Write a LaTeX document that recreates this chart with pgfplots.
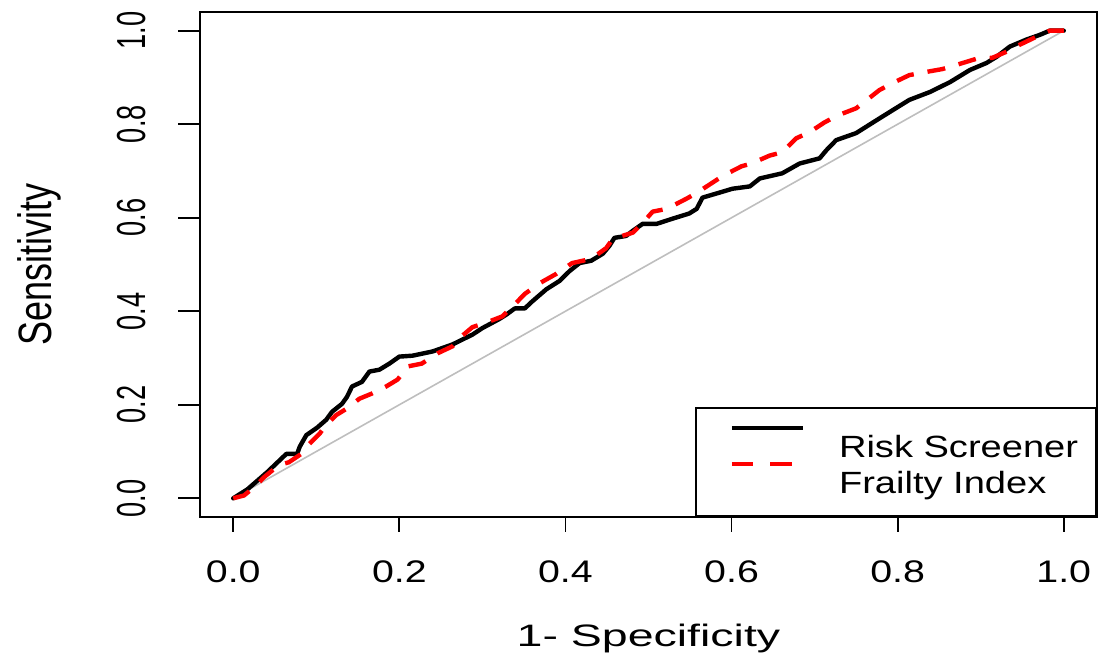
\documentclass[border=0pt]{standalone}
\usepackage{fontspec}
\setmainfont{Liberation Sans}
\usepackage{graphicx}
\usepackage{pgfplots}
\pgfplotsset{compat=1.18}

% ROC curve of the Risk Screener
\pgfplotstableread{
fpr tpr
0.000 0.000
0.017 0.019
0.041 0.056
0.064 0.095
0.077 0.095
0.080 0.110
0.088 0.135
0.101 0.151
0.112 0.168
0.119 0.185
0.131 0.202
0.137 0.217
0.143 0.239
0.155 0.249
0.164 0.271
0.176 0.275
0.188 0.288
0.200 0.303
0.216 0.305
0.240 0.314
0.264 0.329
0.288 0.350
0.300 0.364
0.320 0.383
0.329 0.393
0.339 0.406
0.351 0.406
0.360 0.421
0.377 0.447
0.393 0.465
0.405 0.486
0.417 0.503
0.431 0.508
0.445 0.523
0.453 0.540
0.459 0.557
0.473 0.561
0.481 0.572
0.493 0.587
0.510 0.587
0.529 0.598
0.549 0.609
0.558 0.619
0.565 0.643
0.586 0.654
0.601 0.662
0.622 0.667
0.634 0.684
0.661 0.695
0.682 0.716
0.706 0.727
0.714 0.744
0.726 0.766
0.750 0.781
0.775 0.809
0.794 0.830
0.814 0.852
0.839 0.869
0.863 0.890
0.887 0.916
0.907 0.931
0.919 0.944
0.935 0.966
0.955 0.981
0.971 0.991
0.983 1.000
1.000 1.000
}\riskscreener

% ROC curve of the Frailty Index
\pgfplotstableread{
fpr tpr
0.000 0.000
0.013 0.006
0.028 0.028
0.037 0.045
0.055 0.071
0.067 0.077
0.082 0.095
0.088 0.110
0.104 0.138
0.110 0.153
0.124 0.178
0.136 0.191
0.152 0.213
0.167 0.224
0.184 0.239
0.198 0.254
0.210 0.282
0.227 0.288
0.246 0.310
0.264 0.325
0.276 0.348
0.288 0.366
0.308 0.378
0.324 0.389
0.339 0.415
0.351 0.437
0.369 0.460
0.389 0.480
0.408 0.503
0.431 0.512
0.449 0.535
0.457 0.555
0.481 0.568
0.492 0.587
0.505 0.613
0.522 0.619
0.546 0.641
0.558 0.653
0.577 0.675
0.590 0.690
0.612 0.710
0.624 0.716
0.646 0.733
0.661 0.740
0.678 0.770
0.694 0.783
0.712 0.804
0.728 0.819
0.750 0.834
0.763 0.852
0.778 0.873
0.794 0.888
0.814 0.905
0.835 0.912
0.854 0.918
0.871 0.927
0.895 0.940
0.914 0.942
0.931 0.955
0.947 0.970
0.967 0.987
0.983 1.000
1.000 1.000
}\frailtyindex

\definecolor{refgray}{RGB}{190,190,190}
% tick labels: set below / left of the frame without shifting the label nodes
\newcommand{\xtl}[1]{\raisebox{-33pt}{\scalebox{1.26}[1]{#1}}}
\newcommand{\ytl}[1]{\raisebox{27pt}{\scalebox{1}[1.49]{#1}}}

\begin{document}
\begin{tikzpicture}
\useasboundingbox (-100pt,-72.5pt) rectangle (449.5pt,258.5pt);
\begin{axis}[
  name=roc,
  at={(0pt,0pt)}, anchor=south west,
  scale only axis, width=448.5pt, height=252.5pt,
  xmin=-0.04, xmax=1.04, ymin=-0.04, ymax=1.04,
  axis line style={line width=0.9pt, black},
  tick style={draw=none},
  xtick pos=left, ytick pos=left,
  xtick={0,0.2,0.4,0.6,0.8,1},
  xticklabels={\xtl{0.0},\xtl{0.2},\xtl{0.4},\xtl{0.6},\xtl{0.8},\xtl{1.0}},
  ytick={0,0.2,0.4,0.6,0.8,1},
  yticklabels={\ytl{0.0},\ytl{0.2},\ytl{0.4},\ytl{0.6},\ytl{0.8},\ytl{1.0}},
  xticklabel style={anchor=base, inner sep=0pt,
    font=\fontsize{15.6pt}{16pt}\selectfont},
  yticklabel style={rotate=90, anchor=base, inner sep=0pt,
    font=\fontsize{13.6pt}{14pt}\selectfont},
  xlabel={\scalebox{1.5}[1]{1- Specificity}},
  ylabel={\scalebox{1}[1.3]{Sensitivity}},
  xlabel style={at={(axis description cs:0.5,-0.2574)}, anchor=base, inner sep=0pt,
    font=\fontsize{15.5pt}{16pt}\selectfont},
  ylabel style={at={(axis description cs:-0.165,0.5)}, anchor=base, inner sep=0pt,
    font=\fontsize{18pt}{19pt}\selectfont},
  legend cell align=left,
  legend style={at={(rel axis cs:1,0)}, anchor=south east,
    draw=black, line width=0.9pt, fill=white,
    inner xsep=9pt, inner ysep=8pt, row sep=-2pt, column sep=17pt,
    nodes={inner sep=0pt, text height=16.5pt, text depth=3.5pt},
    font=\fontsize{15.35pt}{16pt}\selectfont},
  legend image code/.code={
    \path[draw=none] (0pt,0pt) (44.5pt,0pt);
    \draw[#1] (9pt,8pt) -- (44.5pt,8pt);
  },
]
% chance diagonal
\addplot[refgray, line width=0.8pt, forget plot] coordinates {(0,0) (1,1)};
\addplot[black, line width=2.2pt, line join=round, line cap=round, forget plot]
  table[x=fpr, y=tpr] {\riskscreener};
\addplot[red, line width=2.2pt, line join=round, dash pattern=on 9pt off 7pt, forget plot]
  table[x=fpr, y=tpr] {\frailtyindex};

\addlegendimage{black, line width=2.2pt}
\addlegendentry{\scalebox{1.24}[1]{Risk Screener}}
\addlegendimage{red, line width=2.2pt, dash pattern=on 10.75pt off 8.5pt}
\addlegendentry{\scalebox{1.24}[1]{Frailty Index}}
\end{axis}
% outward tick marks at 0, 0.2, ..., 1 on the bottom and left sides of the frame
% (frame: 448.5pt x 252.5pt for the range -0.04 .. 1.04 on both axes)
\draw[line width=0.9pt, black]
  (16.61pt,0pt)  -- ++(0pt,-7.5pt)
  (99.67pt,0pt)  -- ++(0pt,-7.5pt)
  (182.72pt,0pt) -- ++(0pt,-7.5pt)
  (265.78pt,0pt) -- ++(0pt,-7.5pt)
  (348.83pt,0pt) -- ++(0pt,-7.5pt)
  (431.89pt,0pt) -- ++(0pt,-7.5pt)
  (0pt,9.35pt)   -- ++(-11pt,0pt)
  (0pt,56.11pt)  -- ++(-11pt,0pt)
  (0pt,102.87pt) -- ++(-11pt,0pt)
  (0pt,149.63pt) -- ++(-11pt,0pt)
  (0pt,196.39pt) -- ++(-11pt,0pt)
  (0pt,243.15pt) -- ++(-11pt,0pt);
\end{tikzpicture}
\end{document}
